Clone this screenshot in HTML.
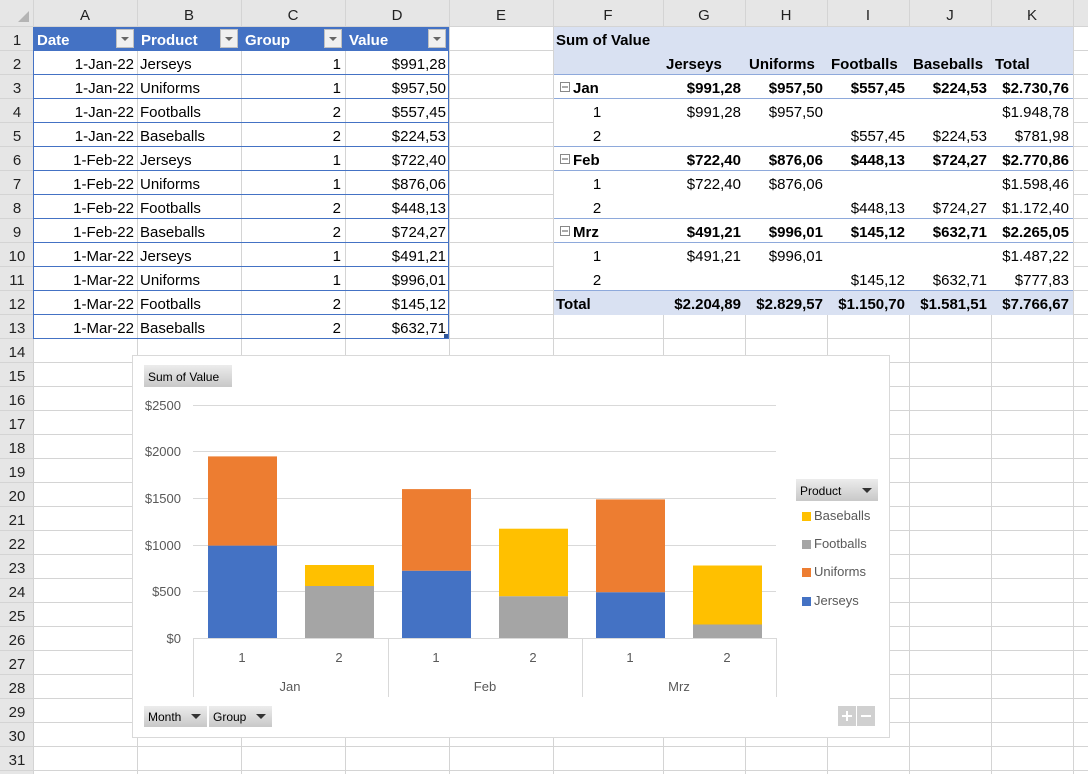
<!DOCTYPE html>
<html><head><meta charset="utf-8"><style>
body{margin:0;background:#fff;}
svg{display:block;font-family:"Liberation Sans",sans-serif;}
</style></head><body>
<svg width="1088" height="774" viewBox="0 0 1088 774" xmlns="http://www.w3.org/2000/svg">
<defs>
<linearGradient id="btn" x1="0" y1="0" x2="0" y2="1"><stop offset="0" stop-color="#ececec"/><stop offset="1" stop-color="#c8c8c8"/></linearGradient>
</defs>
<rect width="1088" height="774" fill="#fff"/>
<rect x="0" y="0" width="1088" height="27" fill="#e6e6e6"/>
<rect x="0" y="0" width="33" height="774" fill="#e6e6e6"/>
<polygon points="18,22 29,22 29,11" fill="#b4b4b4"/>
<g stroke="#d4d4d4" stroke-width="1">
<line x1="33.5" y1="0" x2="33.5" y2="774"/><line x1="137.5" y1="0" x2="137.5" y2="774"/><line x1="241.5" y1="0" x2="241.5" y2="774"/><line x1="345.5" y1="0" x2="345.5" y2="774"/><line x1="449.5" y1="0" x2="449.5" y2="774"/><line x1="553.5" y1="0" x2="553.5" y2="774"/><line x1="663.5" y1="0" x2="663.5" y2="774"/><line x1="745.5" y1="0" x2="745.5" y2="774"/><line x1="827.5" y1="0" x2="827.5" y2="774"/><line x1="909.5" y1="0" x2="909.5" y2="774"/><line x1="991.5" y1="0" x2="991.5" y2="774"/><line x1="1073.5" y1="0" x2="1073.5" y2="774"/>
<line x1="0" y1="26.5" x2="1088" y2="26.5"/><line x1="0" y1="50.5" x2="1088" y2="50.5"/><line x1="0" y1="74.5" x2="1088" y2="74.5"/><line x1="0" y1="98.5" x2="1088" y2="98.5"/><line x1="0" y1="122.5" x2="1088" y2="122.5"/><line x1="0" y1="146.5" x2="1088" y2="146.5"/><line x1="0" y1="170.5" x2="1088" y2="170.5"/><line x1="0" y1="194.5" x2="1088" y2="194.5"/><line x1="0" y1="218.5" x2="1088" y2="218.5"/><line x1="0" y1="242.5" x2="1088" y2="242.5"/><line x1="0" y1="266.5" x2="1088" y2="266.5"/><line x1="0" y1="290.5" x2="1088" y2="290.5"/><line x1="0" y1="314.5" x2="1088" y2="314.5"/><line x1="0" y1="338.5" x2="1088" y2="338.5"/><line x1="0" y1="362.5" x2="1088" y2="362.5"/><line x1="0" y1="386.5" x2="1088" y2="386.5"/><line x1="0" y1="410.5" x2="1088" y2="410.5"/><line x1="0" y1="434.5" x2="1088" y2="434.5"/><line x1="0" y1="458.5" x2="1088" y2="458.5"/><line x1="0" y1="482.5" x2="1088" y2="482.5"/><line x1="0" y1="506.5" x2="1088" y2="506.5"/><line x1="0" y1="530.5" x2="1088" y2="530.5"/><line x1="0" y1="554.5" x2="1088" y2="554.5"/><line x1="0" y1="578.5" x2="1088" y2="578.5"/><line x1="0" y1="602.5" x2="1088" y2="602.5"/><line x1="0" y1="626.5" x2="1088" y2="626.5"/><line x1="0" y1="650.5" x2="1088" y2="650.5"/><line x1="0" y1="674.5" x2="1088" y2="674.5"/><line x1="0" y1="698.5" x2="1088" y2="698.5"/><line x1="0" y1="722.5" x2="1088" y2="722.5"/><line x1="0" y1="746.5" x2="1088" y2="746.5"/><line x1="0" y1="770.5" x2="1088" y2="770.5"/>
</g>
<g font-size="15" fill="#222" text-anchor="middle">
<text x="85" y="20">A</text><text x="189" y="20">B</text><text x="293" y="20">C</text><text x="397" y="20">D</text><text x="501" y="20">E</text><text x="608" y="20">F</text><text x="704" y="20">G</text><text x="786" y="20">H</text><text x="868" y="20">I</text><text x="950" y="20">J</text><text x="1032" y="20">K</text>
<text x="17" y="45">1</text><text x="17" y="69">2</text><text x="17" y="93">3</text><text x="17" y="117">4</text><text x="17" y="141">5</text><text x="17" y="165">6</text><text x="17" y="189">7</text><text x="17" y="213">8</text><text x="17" y="237">9</text><text x="17" y="261">10</text><text x="17" y="285">11</text><text x="17" y="309">12</text><text x="17" y="333">13</text><text x="17" y="357">14</text><text x="17" y="381">15</text><text x="17" y="405">16</text><text x="17" y="429">17</text><text x="17" y="453">18</text><text x="17" y="477">19</text><text x="17" y="501">20</text><text x="17" y="525">21</text><text x="17" y="549">22</text><text x="17" y="573">23</text><text x="17" y="597">24</text><text x="17" y="621">25</text><text x="17" y="645">26</text><text x="17" y="669">27</text><text x="17" y="693">28</text><text x="17" y="717">29</text><text x="17" y="741">30</text><text x="17" y="765">31</text>
</g>
<!-- table -->
<rect x="34" y="27" width="415" height="24" fill="#4472c4"/>
<g stroke="#4472c4" stroke-width="1">
<line x1="34" y1="74.5" x2="449" y2="74.5"/><line x1="34" y1="98.5" x2="449" y2="98.5"/><line x1="34" y1="122.5" x2="449" y2="122.5"/><line x1="34" y1="146.5" x2="449" y2="146.5"/><line x1="34" y1="170.5" x2="449" y2="170.5"/><line x1="34" y1="194.5" x2="449" y2="194.5"/><line x1="34" y1="218.5" x2="449" y2="218.5"/><line x1="34" y1="242.5" x2="449" y2="242.5"/><line x1="34" y1="266.5" x2="449" y2="266.5"/><line x1="34" y1="290.5" x2="449" y2="290.5"/><line x1="34" y1="314.5" x2="449" y2="314.5"/><line x1="34" y1="338.5" x2="449" y2="338.5"/>
<line x1="33.5" y1="27" x2="33.5" y2="339"/><line x1="448.5" y1="27" x2="448.5" y2="339"/>
</g>
<rect x="444" y="334" width="4" height="4" fill="#2f5597"/>
<g fill="#fff" font-size="15" font-weight="bold">
<text x="37" y="45">Date</text><text x="141" y="45">Product</text><text x="245" y="45">Group</text><text x="349" y="45">Value</text>
</g>
<g fill="#f0f0f0" stroke="#c0c0c0"><rect x="116.5" y="29.5" width="17" height="18"/><rect x="220.5" y="29.5" width="17" height="18"/><rect x="324.5" y="29.5" width="17" height="18"/><rect x="428.5" y="29.5" width="17" height="18"/></g>
<g fill="#666"><polygon points="121,37 129,37 125,41"/><polygon points="225,37 233,37 229,41"/><polygon points="329,37 337,37 333,41"/><polygon points="433,37 441,37 437,41"/></g>
<g font-size="15" fill="#000">
<g text-anchor="end">
<text x="134" y="69">1-Jan-22</text><text x="134" y="93">1-Jan-22</text><text x="134" y="117">1-Jan-22</text><text x="134" y="141">1-Jan-22</text><text x="134" y="165">1-Feb-22</text><text x="134" y="189">1-Feb-22</text><text x="134" y="213">1-Feb-22</text><text x="134" y="237">1-Feb-22</text><text x="134" y="261">1-Mar-22</text><text x="134" y="285">1-Mar-22</text><text x="134" y="309">1-Mar-22</text><text x="134" y="333">1-Mar-22</text>
<text x="341" y="69">1</text><text x="341" y="93">1</text><text x="341" y="117">2</text><text x="341" y="141">2</text><text x="341" y="165">1</text><text x="341" y="189">1</text><text x="341" y="213">2</text><text x="341" y="237">2</text><text x="341" y="261">1</text><text x="341" y="285">1</text><text x="341" y="309">2</text><text x="341" y="333">2</text>
<text x="446" y="69">$991,28</text><text x="446" y="93">$957,50</text><text x="446" y="117">$557,45</text><text x="446" y="141">$224,53</text><text x="446" y="165">$722,40</text><text x="446" y="189">$876,06</text><text x="446" y="213">$448,13</text><text x="446" y="237">$724,27</text><text x="446" y="261">$491,21</text><text x="446" y="285">$996,01</text><text x="446" y="309">$145,12</text><text x="446" y="333">$632,71</text>
</g>
<text x="140" y="69">Jerseys</text><text x="140" y="93">Uniforms</text><text x="140" y="117">Footballs</text><text x="140" y="141">Baseballs</text><text x="140" y="165">Jerseys</text><text x="140" y="189">Uniforms</text><text x="140" y="213">Footballs</text><text x="140" y="237">Baseballs</text><text x="140" y="261">Jerseys</text><text x="140" y="285">Uniforms</text><text x="140" y="309">Footballs</text><text x="140" y="333">Baseballs</text>
</g>
<!-- pivot -->
<rect x="554" y="27" width="519" height="47" fill="#d9e1f2"/>
<rect x="554" y="75" width="519" height="216" fill="#fff"/>
<rect x="554" y="291" width="519" height="24" fill="#d9e1f2"/>
<g stroke="#8ea9db"><line x1="554" y1="74.5" x2="1073" y2="74.5"/><line x1="554" y1="98.5" x2="1073" y2="98.5"/><line x1="554" y1="146.5" x2="1073" y2="146.5"/><line x1="554" y1="170.5" x2="1073" y2="170.5"/><line x1="554" y1="218.5" x2="1073" y2="218.5"/><line x1="554" y1="242.5" x2="1073" y2="242.5"/><line x1="554" y1="290.5" x2="1073" y2="290.5"/></g>
<g fill="#fff" stroke="#888"><rect x="560.5" y="82.5" width="9" height="9"/><rect x="560.5" y="154.5" width="9" height="9"/><rect x="560.5" y="226.5" width="9" height="9"/></g>
<g stroke="#555"><line x1="562" y1="87" x2="568" y2="87"/><line x1="562" y1="159" x2="568" y2="159"/><line x1="562" y1="231" x2="568" y2="231"/></g>
<g font-size="15" fill="#000">
<g font-weight="bold">
<text x="556" y="45">Sum of Value</text>
<text x="666" y="69">Jerseys</text><text x="749" y="69">Uniforms</text><text x="831" y="69">Footballs</text><text x="913" y="69">Baseballs</text><text x="995" y="69">Total</text>
<text x="573" y="93">Jan</text><text x="573" y="165">Feb</text><text x="573" y="237">Mrz</text><text x="556" y="309">Total</text>
<g text-anchor="end">
<text x="741" y="93">$991,28</text><text x="823" y="93">$957,50</text><text x="905" y="93">$557,45</text><text x="987" y="93">$224,53</text><text x="1069" y="93">$2.730,76</text>
<text x="741" y="165">$722,40</text><text x="823" y="165">$876,06</text><text x="905" y="165">$448,13</text><text x="987" y="165">$724,27</text><text x="1069" y="165">$2.770,86</text>
<text x="741" y="237">$491,21</text><text x="823" y="237">$996,01</text><text x="905" y="237">$145,12</text><text x="987" y="237">$632,71</text><text x="1069" y="237">$2.265,05</text>
<text x="741" y="309">$2.204,89</text><text x="823" y="309">$2.829,57</text><text x="905" y="309">$1.150,70</text><text x="987" y="309">$1.581,51</text><text x="1069" y="309">$7.766,67</text>
</g></g>
<g text-anchor="middle"><text x="597" y="117">1</text><text x="597" y="141">2</text><text x="597" y="189">1</text><text x="597" y="213">2</text><text x="597" y="261">1</text><text x="597" y="285">2</text></g>
<g text-anchor="end">
<text x="741" y="117">$991,28</text><text x="823" y="117">$957,50</text><text x="1069" y="117">$1.948,78</text>
<text x="905" y="141">$557,45</text><text x="987" y="141">$224,53</text><text x="1069" y="141">$781,98</text>
<text x="741" y="189">$722,40</text><text x="823" y="189">$876,06</text><text x="1069" y="189">$1.598,46</text>
<text x="905" y="213">$448,13</text><text x="987" y="213">$724,27</text><text x="1069" y="213">$1.172,40</text>
<text x="741" y="261">$491,21</text><text x="823" y="261">$996,01</text><text x="1069" y="261">$1.487,22</text>
<text x="905" y="285">$145,12</text><text x="987" y="285">$632,71</text><text x="1069" y="285">$777,83</text>
</g>
</g>
<!-- chart -->
<rect x="132.5" y="355.5" width="757" height="382" fill="#fff" stroke="#d9d9d9"/>
<g stroke="#d9d9d9"><line x1="193" y1="405.5" x2="776" y2="405.5"/><line x1="193" y1="451.5" x2="776" y2="451.5"/><line x1="193" y1="498.5" x2="776" y2="498.5"/><line x1="193" y1="545.5" x2="776" y2="545.5"/><line x1="193" y1="591.5" x2="776" y2="591.5"/>
<line x1="193" y1="638.5" x2="776" y2="638.5"/><line x1="193.5" y1="638" x2="193.5" y2="697"/><line x1="388.5" y1="638" x2="388.5" y2="697"/><line x1="582.5" y1="638" x2="582.5" y2="697"/><line x1="776.5" y1="638" x2="776.5" y2="697"/></g>
<rect x="208" y="545.6" width="69" height="92.4" fill="#4472c4"/><rect x="208" y="456.4" width="69" height="89.2" fill="#ed7d31"/>
<rect x="305" y="586" width="69" height="52" fill="#a5a5a5"/><rect x="305" y="565" width="69" height="21" fill="#ffc000"/>
<rect x="402" y="570.7" width="69" height="67.3" fill="#4472c4"/><rect x="402" y="489.1" width="69" height="81.6" fill="#ed7d31"/>
<rect x="499" y="596.2" width="69" height="41.8" fill="#a5a5a5"/><rect x="499" y="528.7" width="69" height="67.5" fill="#ffc000"/>
<rect x="596" y="592.2" width="69" height="45.8" fill="#4472c4"/><rect x="596" y="499.4" width="69" height="92.8" fill="#ed7d31"/>
<rect x="693" y="624.5" width="69" height="13.5" fill="#a5a5a5"/><rect x="693" y="565.5" width="69" height="59" fill="#ffc000"/>
<g font-size="13" fill="#595959">
<g text-anchor="end"><text x="181" y="410">$2500</text><text x="181" y="456">$2000</text><text x="181" y="503">$1500</text><text x="181" y="550">$1000</text><text x="181" y="596">$500</text><text x="181" y="643">$0</text></g>
<g text-anchor="middle"><text x="242" y="662">1</text><text x="339" y="662">2</text><text x="436" y="662">1</text><text x="533" y="662">2</text><text x="630" y="662">1</text><text x="727" y="662">2</text>
<text x="290" y="691">Jan</text><text x="485" y="691">Feb</text><text x="679" y="691">Mrz</text></g>
<text x="814" y="520">Baseballs</text><text x="814" y="548">Footballs</text><text x="814" y="576">Uniforms</text><text x="814" y="605">Jerseys</text>
</g>
<rect x="802" y="512" width="9" height="9" fill="#ffc000"/><rect x="802" y="540" width="9" height="9" fill="#a5a5a5"/><rect x="802" y="568" width="9" height="9" fill="#ed7d31"/><rect x="802" y="597" width="9" height="9" fill="#4472c4"/>
<g font-size="12" fill="#000">
<rect x="144" y="365" width="88" height="22" fill="url(#btn)"/><text x="148" y="381">Sum of Value</text>
<rect x="796" y="479" width="82" height="22" fill="url(#btn)"/><text x="800" y="495">Product</text><polygon points="862,488 872,488 867,493" fill="#333"/>
<rect x="144" y="706" width="63" height="21" fill="url(#btn)"/><text x="148" y="721">Month</text><polygon points="191,714 201,714 196,719" fill="#333"/>
<rect x="209" y="706" width="63" height="21" fill="url(#btn)"/><text x="213" y="721">Group</text><polygon points="256,714 266,714 261,719" fill="#333"/>
</g>
<rect x="838" y="706" width="18" height="20" fill="#d0d0d0"/><rect x="857" y="706" width="18" height="20" fill="#d0d0d0"/>
<g stroke="#fff" stroke-width="2"><line x1="842" y1="716" x2="852" y2="716"/><line x1="847" y1="711" x2="847" y2="721"/><line x1="861" y1="716" x2="871" y2="716"/></g>
</svg>
</body></html>
